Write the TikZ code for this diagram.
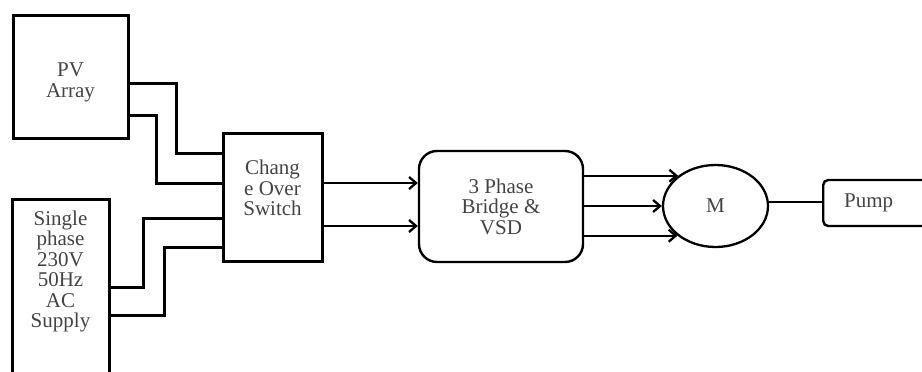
\documentclass[tikz,border=0pt]{standalone}
\usepackage{fontspec}
\setmainfont{Liberation Serif}
\usetikzlibrary{arrows.meta,shapes.geometric}
\definecolor{txtc}{HTML}{444444}
\begin{document}
\begin{tikzpicture}[x=1pt,y=-1pt,
  txt/.style={text=txtc,font=\fontsize{21}{20.5}\selectfont,align=center},
  box/.style={draw=black,line width=3pt,fill=white,txt,inner sep=0pt},
  rbox/.style={box,line width=2.4pt},
  wire/.style={line width=3pt,line join=miter},
  arr/.style={line width=2.3pt,-{Straight Barb[length=7pt,width=12pt,line width=2.3pt]}},
  link/.style={line width=2.3pt}]
\useasboundingbox (0,0) rectangle (922,372);
\fill[white] (0,0) rectangle (922,372);
\clip (0,0) rectangle (922,372);

\node[box,minimum width=115,minimum height=123,
  label={[txt,yshift=-6]center:{PV\\Array}}] (pv) at (70.5,76.5) {};
\node[box,minimum width=97,minimum height=200,anchor=north,
  label={[txt,anchor=north,yshift=-9]north:{Single\\phase\\230V\\50Hz\\AC\\Supply}}] (ac) at (60.5,198) {};
\node[box,minimum width=99,minimum height=128,
  label={[txt,yshift=9]center:{Chang\\e Over\\Switch}}] (sw) at (272.5,197) {};
\node[rbox,rounded corners=18,minimum width=164,minimum height=111] (br) at (501,206.5) {3 Phase\\Bridge \&\\VSD};
\node[ellipse,draw=black,line width=2.3pt,fill=white,txt,minimum width=105,minimum height=82] (m) at (715.5,206) {M};
\node[rbox,rounded corners=5,anchor=west,minimum height=46,text width=75,align=left,inner xsep=21] (pump) at (822,203) {Pump};

\draw[wire] (pv.east |- 0,83) -| (176,153) -- (sw.west |- 0,153);
\draw[wire] (pv.east |- 0,115) -| (156,183) -- (sw.west |- 0,183);
\draw[wire] (ac.east |- 0,287) -| (143,218) -- (sw.west |- 0,218);
\draw[wire] (ac.east |- 0,315) -| (164,247) -- (sw.west |- 0,247);

\draw[arr] (sw.east |- 0,183) -- (br.west |- 0,183);
\draw[arr] (sw.east |- 0,226) -- (br.west |- 0,226);

\draw[arr] (br.east |- m.141.8) -- (m.141.8);
\draw[arr] (br.east |- m.west) -- (m.west);
\draw[arr] (br.east |- m.218.2) -- (m.218.2);

\draw[link] (m.east |- 0,202) -- (pump.west |- 0,202);
\end{tikzpicture}
\end{document}
